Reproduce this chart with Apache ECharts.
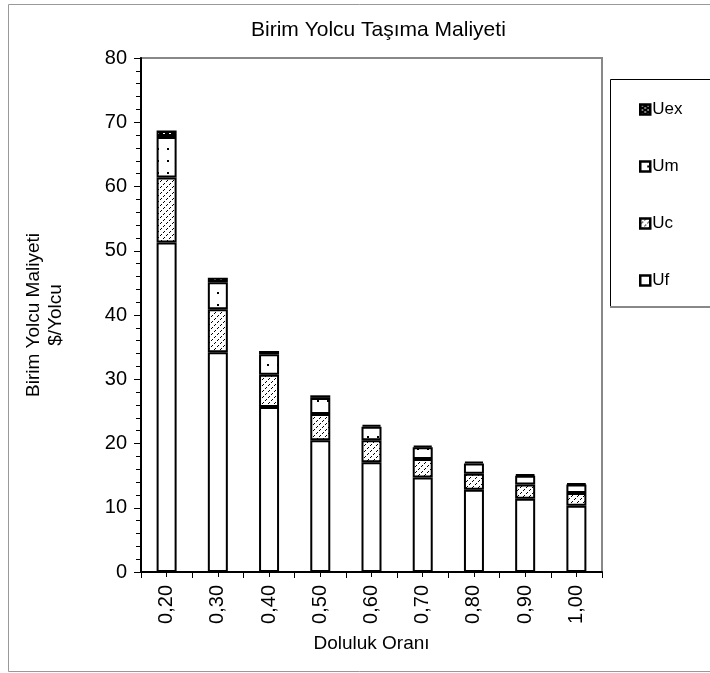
<!DOCTYPE html>
<html>
<head>
<meta charset="utf-8">
<script src="https://cdn.jsdelivr.net/npm/echarts@6/dist/echarts.min.js"></script>
<style>
  html, body { margin: 0; padding: 0; background: #fff; }
  #chart { width: 710px; height: 673px; }
</style>
</head>
<body>
<div id="chart"></div>
<script>
// data
const categories = ['0,20', '0,30', '0,40', '0,50', '0,60', '0,70', '0,80', '0,90', '1,00']
const uf = [51.3, 34.2, 25.7, 20.5, 17.1, 14.7, 12.8, 11.4, 10.3]
const uc = [10.1, 6.7, 5.0, 4.1, 3.4, 2.9, 2.5, 2.2, 2.0]
const um = [6.3, 4.2, 3.2, 2.5, 2.1, 1.8, 1.6, 1.4, 1.3]
const uex = [1.0, 0.7, 0.5, 0.4, 0.3, 0.3, 0.3, 0.2, 0.2]
const yTicks = [0, 80, 10]

const FONT = '"Liberation Sans", Arial, sans-serif'

// small fill patterns like the old spreadsheet hatches
function makePattern(w, h, bg, fg, pixels) {
  const c = document.createElement('canvas')
  c.width = w
  c.height = h
  const ctx = c.getContext('2d')
  ctx.fillStyle = bg
  ctx.fillRect(0, 0, w, h)
  ctx.fillStyle = fg
  pixels.forEach(p => ctx.fillRect(p[0], p[1], p[2] || 1, p[3] || 1))
  return { image: c, repeat: 'repeat' }
}

const patUc = makePattern(6, 6, '#fff', '#000', [[5, 0], [4, 1], [2, 3], [1, 4]])
const patUm = makePattern(10, 12, '#fff', '#000', [[7, 4, 2, 2]])
const patUex = makePattern(6, 4, '#000', '#fff', [[1, 1, 2, 1], [4, 3, 2, 1]])

const chart = echarts.init(document.getElementById('chart'))

function barSeries(name, data, color) {
  return {
    name,
    type: 'bar',
    stack: 'total',
    data,
    barWidth: 20,
    itemStyle: { color, borderColor: '#000', borderWidth: 2 },
    emphasis: { disabled: true },
  }
}

chart.setOption({
  animation: false,
  textStyle: { fontFamily: FONT, color: '#000' },
  title: {
    text: 'Birim Yolcu Taşıma Maliyeti',
    left: 251,
    top: 20,
    padding: 0,
    textStyle: { fontFamily: FONT, fontSize: 21, fontWeight: 'normal', color: '#000' },
  },
  grid: {
    left: 141, top: 58, right: 108, bottom: 101,
    show: true, borderColor: '#888', borderWidth: 2, backgroundColor: 'transparent',
  },
  legend: {
    orient: 'vertical',
    left: 639,
    top: 101,
    padding: 0,
    itemWidth: 10,
    itemHeight: 10,
    itemGap: 40,
    icon: 'rect',
    data: ['Uex', 'Um', 'Uc', 'Uf'],
    itemStyle: { borderWidth: 2.5, borderColor: '#000' },
    textStyle: { fontFamily: FONT, fontSize: 17, color: '#000', padding: [0, 0, 0, -3] },
    selectedMode: false,
  },
  xAxis: [
    {
      type: 'category',
      data: categories,
      name: 'Doluluk Oranı',
      nameLocation: 'middle',
      nameGap: 62,
      nameTextStyle: { fontFamily: FONT, fontSize: 19, color: '#000' },
      axisLine: { lineStyle: { color: '#000', width: 2 } },
      axisTick: { show: true, interval: 0, length: 6, lineStyle: { color: '#000' } },
      axisLabel: { rotate: 90, margin: 13, fontFamily: FONT, fontSize: 20, color: '#000', interval: 0 },
    },
    {
      type: 'category',
      data: categories,
      position: 'bottom',
      axisLine: { show: false },
      axisTick: { show: true, alignWithLabel: true, interval: 0, length: 5, lineStyle: { color: '#000' } },
      axisLabel: { show: false },
    },
  ],
  yAxis: {
    type: 'value',
    min: yTicks[0],
    max: yTicks[1],
    interval: yTicks[2],
    name: 'Birim Yolcu Maliyeti\n$/Yolcu',
    nameLocation: 'middle',
    nameGap: 74,
    nameTextStyle: { fontFamily: FONT, fontSize: 19, color: '#000', lineHeight: 22, align: 'center' },
    axisLine: { show: true, lineStyle: { color: '#000', width: 2 } },
    axisTick: { show: true, length: 7, lineStyle: { color: '#000' } },
    minorTick: { show: true, splitNumber: 5, length: 5, lineStyle: { color: '#000' } },
    splitLine: { show: false },
    axisLabel: { margin: 14, fontFamily: FONT, fontSize: 20, color: '#000' },
  },
  graphic: [
    {
      type: 'rect',
      shape: { x: 8.5, y: 4.5, width: 720, height: 667 },
      style: { fill: 'none', stroke: '#999', lineWidth: 1 },
      silent: true,
      z: -10,
    },
    {
      type: 'rect',
      shape: { x: 610.5, y: 79.5, width: 120, height: 227 },
      style: { fill: '#fff', stroke: '#000', lineWidth: 1 },
      silent: true,
      z: -1,
    },
    {
      type: 'line',
      shape: { x1: 610, y1: 307, x2: 710, y2: 307 },
      style: { stroke: '#888', lineWidth: 2 },
      silent: true,
    },
  ],
  series: [
    barSeries('Uf', uf, '#fff'),
    barSeries('Uc', uc, patUc),
    barSeries('Um', um, patUm),
    barSeries('Uex', uex, patUex),
  ],
})
</script>
</body>
</html>
